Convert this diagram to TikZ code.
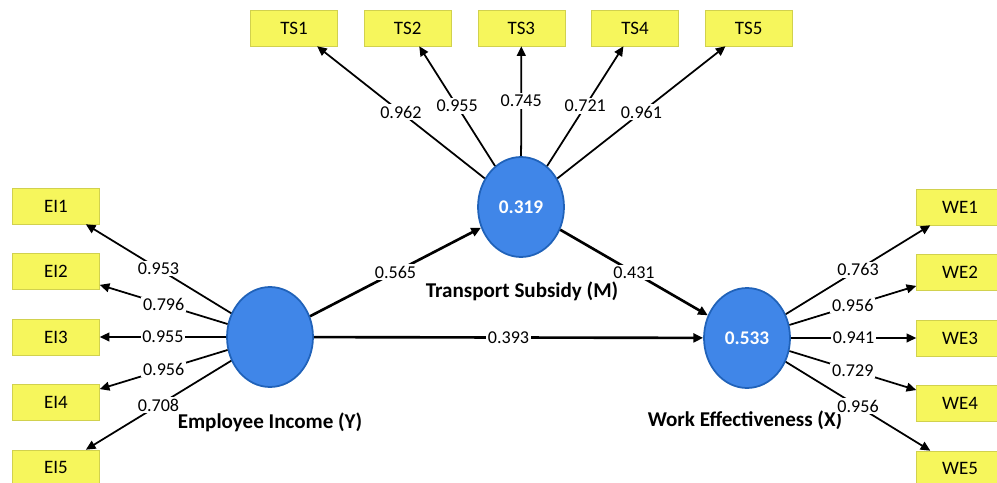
\documentclass[tikz,border=0pt]{standalone}
\usepackage{fontspec}
\setmainfont{Carlito}
\usetikzlibrary{arrows.meta,positioning,shapes.geometric}
\definecolor{boxyellow}{RGB}{246,246,92}
\definecolor{lvblue}{RGB}{64,134,232}
\definecolor{lvedge}{RGB}{32,98,185}
\begin{document}
\begin{tikzpicture}[x=0.02cm,y=-0.02cm,>={Triangle[length=5.5pt,width=5pt]},node distance=1.31cm,
    every node/.style={font=\fontsize{10.3}{12}\selectfont},
    indicator/.style={fill=boxyellow,draw=boxyellow!85!black,line width=0.3pt,minimum width=1.74cm,minimum height=0.72cm,inner sep=0pt,font=\fontsize{10.8}{12}\selectfont},
    latent/.style={ellipse,fill=lvblue,draw=lvedge,line width=1pt,minimum width=1.72cm,minimum height=2cm,inner sep=0pt,text=white,font=\bfseries\fontsize{11}{13}\selectfont},
    lvname/.style={font=\bfseries\fontsize{12}{14}\selectfont},
    load/.style={fill=white,inner sep=1pt,pos=0.5},
    path/.style={->,line width=1.5pt},
    loading/.style={<-,line width=1pt}]
  \useasboundingbox (0,0) rectangle (997,483);

  % latent variables
  \node(ei) [latent] at (270,337) {};
  \node(ts) [latent] at (521,207) {0.319};
  \node(we) [latent] at (747,338) {0.533};
  \node(einame) [lvname] at (270,422) {Employee Income (Y)};
  \node(tsname) [lvname] at (522,291) {Transport Subsidy (M)};
  \node(wename) [lvname] at (745,420) {Work Effectiveness (X)};

  % inner model
  \path (ei) edge [path] node[load] {0.565} (ts)
        (ts) edge [path] node[load] {0.431} (we)
        (ei) edge [path] node[load] {0.393} (we);

  % outer model
  \node(ei1) [indicator] at (56,206) {EI1} edge [loading] node[load] {0.953} (ei);
  \node(ei2) [indicator,below of=ei1] {EI2} edge [loading] node[load] {0.796} (ei);
  \node(ei3) [indicator,below of=ei2] {EI3} edge [loading] node[load] {0.955} (ei);
  \node(ei4) [indicator,below of=ei3] {EI4} edge [loading] node[load] {0.956} (ei);
  \node(ei5) [indicator,below of=ei4] {EI5} edge [loading] node[load] {0.708} (ei);

  \node(ts1) [indicator] at (294,28) {TS1} edge [loading] node[load] {0.962} (ts);
  \node(ts2) [indicator,node distance=2.274cm,right of=ts1] {TS2} edge [loading] node[load] {0.955} (ts);
  \node(ts3) [indicator,node distance=2.274cm,right of=ts2] {TS3} edge [loading] node[load] {0.745} (ts);
  \node(ts4) [indicator,node distance=2.274cm,right of=ts3] {TS4} edge [loading] node[load] {0.721} (ts);
  \node(ts5) [indicator,node distance=2.274cm,right of=ts4] {TS5} edge [loading] node[load] {0.961} (ts);

  \node(we1) [indicator] at (960,207) {WE1} edge [loading] node[load] {0.763} (we);
  \node(we2) [indicator,below of=we1] {WE2} edge [loading] node[load] {0.956} (we);
  \node(we3) [indicator,below of=we2] {WE3} edge [loading] node[load] {0.941} (we);
  \node(we4) [indicator,below of=we3] {WE4} edge [loading] node[load] {0.729} (we);
  \node(we5) [indicator,below of=we4] {WE5} edge [loading] node[load] {0.956} (we);
\end{tikzpicture}
\end{document}
